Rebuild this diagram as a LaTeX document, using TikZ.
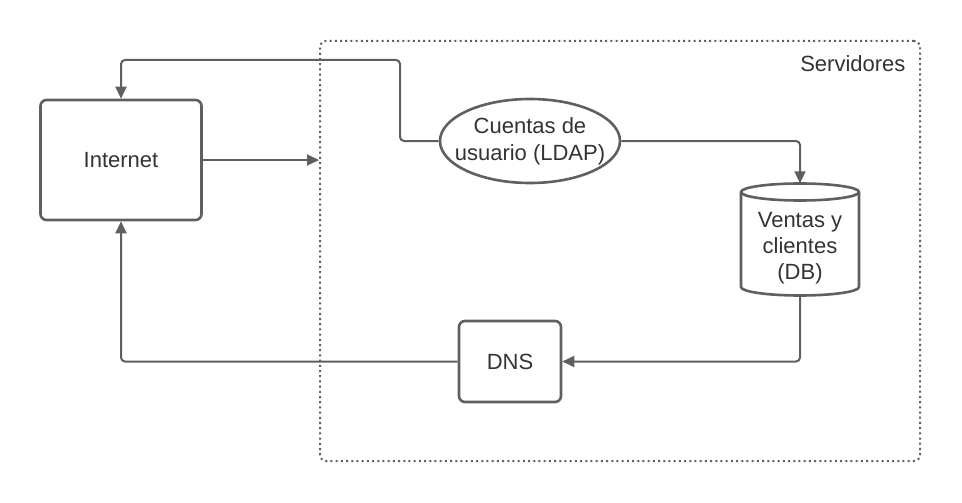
\documentclass[tikz,border=0pt]{standalone}
\usepackage{fontspec}
\setmainfont{Liberation Sans}
\usetikzlibrary{arrows.meta,shapes.geometric}
\definecolor{ln}{HTML}{5F5F5F}
\definecolor{tx}{HTML}{333333}
\tikzset{
  boxnode/.style={draw=ln,line width=2.6pt,rounded corners=6pt,fill=white,text=tx,font=\fontsize{22}{27}\selectfont,align=center},
  ovalnode/.style={draw=ln,line width=2.6pt,ellipse,fill=white,inner sep=0pt},
  conn/.style={draw=ln,line width=2pt,rounded corners=4pt,-{Triangle[length=12pt,width=11pt]}},
  grp/.style={draw=ln,line width=2pt,dash pattern=on 2pt off 3.2pt,rounded corners=6pt},
  lbl/.style={text=tx,font=\fontsize{22}{26}\selectfont}
}
\begin{document}
\begin{tikzpicture}[x=1pt,y=-1pt]
\useasboundingbox (0,0) rectangle (962,503);
% container
\node[grp,minimum width=600pt,minimum height=420pt,inner sep=0pt] (srv) at (620,251) {};
\node[lbl,anchor=east] (srvl) at (909,64) {Servidores};
% nodes
\node[boxnode,minimum width=161pt,minimum height=120pt] (int) at (121,160) {Internet};
\node[ovalnode,minimum width=180pt,minimum height=84pt] (ldap) at (530,141) {};
\node[lbl,align=center,font=\fontsize{22}{27}\selectfont] (ldapt) at (530,141) {Cuentas de\\usuario (LDAP)};
\node[boxnode,minimum width=102pt,minimum height=81pt] (dns) at (510,361.5) {DNS};
% cylinder drawn directly, with an invisible node for connections
\node[minimum width=118pt,minimum height=112pt,inner sep=0pt] (db) at (800,239.5) {};
\draw[draw=ln,line width=2.6pt,fill=white]
  (741,192) -- (741,287) arc[start angle=180,end angle=360,x radius=59pt,y radius=8.5pt]
  -- (859,192) arc[start angle=0,end angle=180,x radius=59pt,y radius=8.5pt] -- cycle;
\draw[draw=ln,line width=2.6pt] (741,192) arc[start angle=180,end angle=360,x radius=59pt,y radius=8.5pt];
\node[lbl,align=center] (dbt) at (800,248) {Ventas y\\clientes\\(DB)};
% connectors
\coordinate (b1) at (400,60);
\draw[conn] (int.east) -- (srv.west |- int.east);
\draw[conn] (ldap.west) -| (b1) -| (int.north);
\draw[conn] (ldap.east) -| (db.north);
\draw[conn] (db.south) |- (dns.east);
\draw[conn] (dns.west) -| (int.south);
\end{tikzpicture}
\end{document}
